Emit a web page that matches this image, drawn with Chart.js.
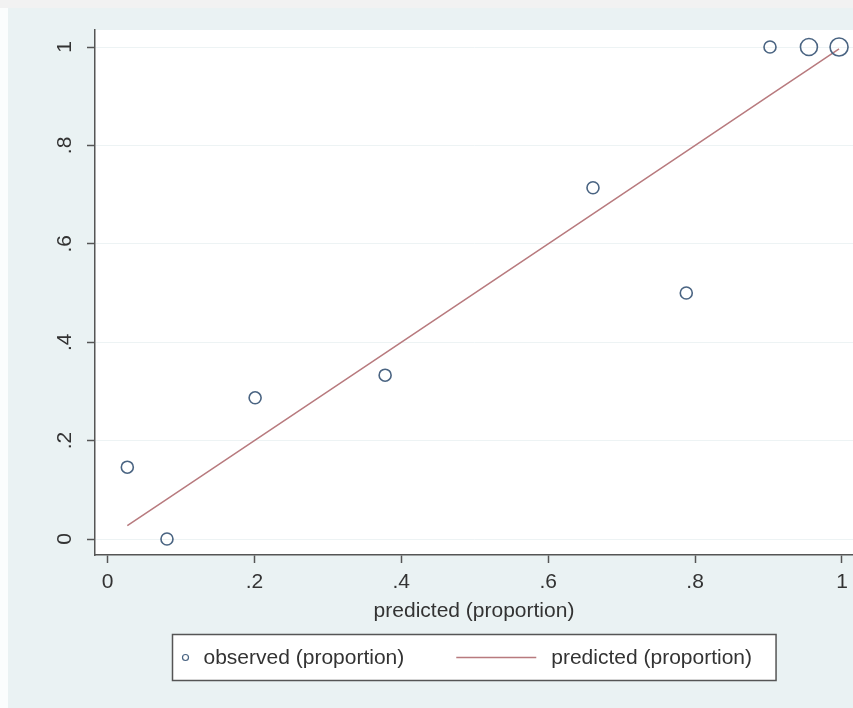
<!DOCTYPE html>
<html><head><meta charset="utf-8">
<script src="https://cdn.jsdelivr.net/npm/chart.js@4/dist/chart.umd.min.js"></script>
<style>html,body{margin:0;padding:0;background:#eaf2f3;}canvas{display:block;}</style>
</head><body>
<canvas id="c" width="853" height="708"></canvas>
<script>
// ---- data ----
const predicted = [0.027, 0.081, 0.201, 0.378, 0.661, 0.788, 0.902, 0.955, 0.996];
const observed  = [0.146, 0.000, 0.287, 0.333, 0.714, 0.500, 1.000, 1.000, 1.000];
const xTickValues = [0, 0.2, 0.4, 0.6, 0.8, 1];
const xTickLabels = ['0', '.2', '.4', '.6', '.8', '1'];
const yTickValues = [0, 0.2, 0.4, 0.6, 0.8, 1];
const yTickLabels = ['0', '.2', '.4', '.6', '.8', '1'];
const seriesLabels = ['observed (proportion)', 'predicted (proportion)'];
const xAxisTitle = 'predicted (proportion)';

// ---- styling ----
const FONT = '"Liberation Sans", Arial, sans-serif';
const FS = 21;
const TEXT = '#333333';
const AXIS = '#555555';
const markerRadius = [6, 6, 6, 6, 6, 6, 6, 8.5, 9];

const obsPoints = predicted.map((p, i) => ({x: p, y: observed[i]}));
const predPoints = predicted.map(p => ({x: p, y: p}));

function labelFor(values, labels, v) {
  const i = values.findIndex(t => Math.abs(t - v) < 1e-9);
  return i >= 0 ? labels[i] : '';
}

const bgPlugin = {
  id: 'bg',
  beforeDraw(chart) {
    const {ctx, width, height, chartArea: a} = chart;
    ctx.save();
    ctx.fillStyle = '#eaf2f3';
    ctx.fillRect(0, 0, width, height);
    ctx.fillStyle = '#f2f2f2';
    ctx.fillRect(0, 0, width, 8);
    ctx.fillStyle = '#fbfdfd';
    ctx.fillRect(0, 8, 8, height - 8);
    ctx.fillStyle = '#ffffff';
    ctx.fillRect(a.left, a.top, a.right - a.left, a.bottom - a.top);
    ctx.restore();
  }
};

const legendPlugin = {
  id: 'boxLegend',
  afterDraw(chart) {
    const {ctx, chartArea: a} = chart;
    const ds = chart.data.datasets;
    ctx.save();
    ctx.font = FS + 'px ' + FONT;
    const w1 = ctx.measureText(ds[0].label).width;
    const w2 = ctx.measureText(ds[1].label).width;
    const total = 13 + 18 + w1 + 52 + 80 + 15 + w2 + 24;
    const cx = (a.left + a.right) / 2;
    const left = Math.round(cx - total / 2) + 0.5;
    const top = 634.5, h = 46;
    ctx.fillStyle = '#ffffff';
    ctx.fillRect(left, top, total, h);
    ctx.strokeStyle = AXIS;
    ctx.lineWidth = 1.5;
    ctx.strokeRect(left, top, total, h);
    const cy = top + h / 2;
    // marker key
    ctx.beginPath();
    ctx.arc(left + 13, cy, 3, 0, Math.PI * 2);
    ctx.strokeStyle = ds[0].borderColor;
    ctx.lineWidth = 1.2;
    ctx.stroke();
    ctx.fillStyle = TEXT;
    ctx.textBaseline = 'middle';
    ctx.textAlign = 'left';
    ctx.fillText(ds[0].label, left + 31, cy + 1);
    // line key
    const lx = left + 31 + w1 + 52;
    ctx.beginPath();
    ctx.moveTo(lx, cy);
    ctx.lineTo(lx + 80, cy);
    ctx.strokeStyle = ds[1].borderColor;
    ctx.lineWidth = ds[1].borderWidth;
    ctx.stroke();
    ctx.fillText(ds[1].label, lx + 80 + 15, cy + 1);
    ctx.restore();
  }
};

new Chart(document.getElementById('c'), {
  type: 'scatter',
  data: {
    datasets: [
      {
        label: seriesLabels[0],
        data: obsPoints,
        showLine: false,
        pointStyle: 'circle',
        pointRadius: markerRadius,
        pointHoverRadius: markerRadius,
        pointBorderWidth: 1.6,
        borderColor: '#4a6482',
        pointBorderColor: '#4a6482',
        pointBackgroundColor: 'rgba(0,0,0,0)',
        clip: 12,
        order: 1
      },
      {
        type: 'line',
        label: seriesLabels[1],
        data: predPoints,
        showLine: true,
        borderColor: '#b87a7e',
        borderWidth: 1.5,
        pointRadius: 0,
        tension: 0,
        fill: false,
        order: 2
      }
    ]
  },
  options: {
    responsive: false,
    animation: false,
    events: [],
    layout: {autoPadding: false, padding: {left: 0, top: 30, right: 0, bottom: 84}},
    plugins: {legend: {display: false}, tooltip: {enabled: false}, title: {display: false}},
    scales: {
      x: {
        type: 'linear',
        position: 'bottom',
        min: -0.017,
        max: 1.015,
        afterBuildTicks: s => { s.ticks = xTickValues.map(v => ({value: v})); },
        afterFit: s => { s.height = 69; s.paddingRight = 0; s.paddingLeft = 0; },
        ticks: {
          autoSkip: false,
          maxRotation: 0,
          minRotation: 0,
          padding: 7,
          color: TEXT,
          font: {family: FONT, size: FS},
          callback: v => labelFor(xTickValues, xTickLabels, v)
        },
        grid: {drawOnChartArea: false, drawTicks: true, tickLength: 8, tickColor: AXIS, tickWidth: 1.5},
        border: {display: true, color: AXIS, width: 1.5},
        title: {display: true, text: xAxisTitle, color: TEXT, font: {family: FONT, size: FS}, padding: {top: 0, bottom: 0}}
      },
      y: {
        type: 'linear',
        position: 'left',
        min: -0.0325,
        max: 1.0346,
        afterBuildTicks: s => { s.ticks = yTickValues.map(v => ({value: v})); },
        afterFit: s => { s.width = 95; },
        ticks: {
          autoSkip: false,
          minRotation: 90,
          maxRotation: 90,
          crossAlign: 'center',
          padding: 13,
          color: TEXT,
          font: {family: FONT, size: FS},
          callback: v => labelFor(yTickValues, yTickLabels, v)
        },
        grid: {drawOnChartArea: true, color: '#edf3f4', lineWidth: 1, drawTicks: true, tickLength: 8, tickColor: AXIS, tickWidth: 1.5},
        border: {display: true, color: AXIS, width: 1.5}
      }
    }
  },
  plugins: [bgPlugin, legendPlugin]
});
</script>
</body></html>
